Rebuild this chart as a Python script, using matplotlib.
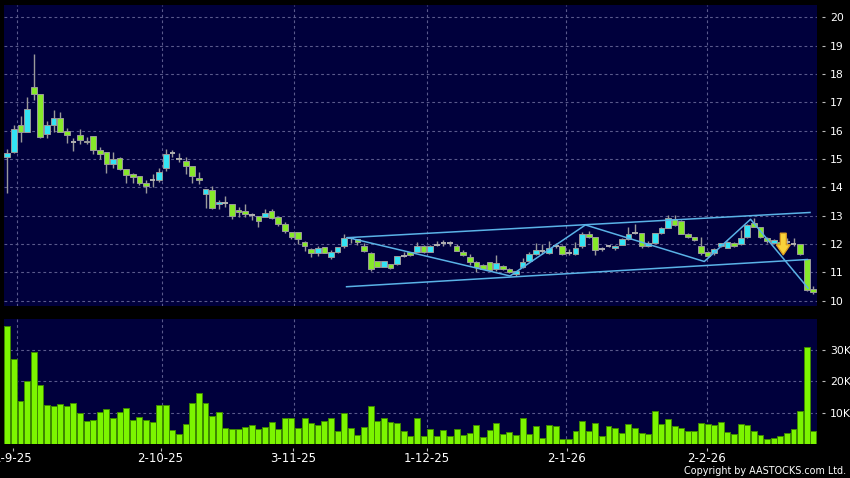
import matplotlib
matplotlib.use("Agg")
import matplotlib.pyplot as plt
from matplotlib.patches import Polygon

# ---------------- data ----------------
opens = [15.08, 15.26, 16.19, 15.96, 17.53, 17.28, 15.87, 16.19, 16.43, 15.97,
         15.58, 15.83, 15.64, 15.80, 15.30, 15.23, 14.81, 15.02, 14.63, 14.45,
         14.38, 14.14, 14.25, 14.25, 14.67, 15.20, 15.01, 14.92, 14.74, 14.32,
         13.75, 13.89, 13.41, 13.46, 13.40, 13.20, 13.15, 13.03, 12.98, 12.96,
         13.15, 12.94, 12.70, 12.41, 12.41, 12.06, 11.81, 11.67, 11.88, 11.55,
         11.71, 11.91, 12.20, 12.18, 11.93, 11.67, 11.39, 11.20, 11.28, 11.28,
         11.58, 11.73, 11.73, 11.91, 11.71, 11.97, 12.03, 12.02, 11.93, 11.73,
         11.53, 11.35, 11.26, 11.35, 11.12, 11.22, 11.13, 10.94, 11.20, 11.40,
         11.65, 11.75, 11.69, 11.93, 11.93, 11.69, 11.64, 11.91, 12.34, 12.24,
         11.81, 11.91, 11.85, 11.97, 12.18, 12.38, 12.38, 11.94, 12.05, 12.38,
         12.55, 12.88, 12.82, 12.34, 12.24, 11.91, 11.71, 11.67, 11.91, 11.87,
         12.05, 11.99, 12.24, 12.75, 12.59, 12.20, 12.03, 12.08, 12.08, 11.99,
         11.99, 11.46, 10.40]
highs = [15.34, 16.20, 16.52, 17.17, 18.70, 17.28, 16.32, 16.73, 16.65, 16.08,
         15.73, 16.05, 15.79, 15.80, 15.41, 15.23, 15.23, 15.06, 14.63, 14.49,
         14.40, 14.26, 14.47, 14.67, 15.34, 15.32, 15.20, 15.06, 14.74, 14.55,
         13.93, 14.06, 13.55, 13.69, 13.40, 13.29, 13.41, 13.08, 12.98, 13.22,
         13.22, 12.94, 12.78, 12.41, 12.41, 12.10, 11.85, 11.91, 11.88, 11.79,
         11.89, 12.34, 12.26, 12.18, 12.05, 11.72, 11.39, 11.39, 11.28, 11.58,
         11.73, 11.73, 12.08, 11.95, 11.95, 12.12, 12.14, 12.12, 11.98, 11.78,
         11.63, 11.40, 11.30, 11.35, 11.61, 11.25, 11.15, 11.06, 11.50, 11.70,
         12.05, 12.00, 12.10, 12.05, 11.95, 11.81, 12.06, 12.43, 12.45, 12.24,
         11.90, 11.97, 11.97, 12.20, 12.59, 12.70, 12.38, 12.10, 12.40, 12.60,
         13.02, 13.02, 12.85, 12.38, 12.26, 12.26, 11.74, 11.85, 12.05, 12.10,
         12.08, 12.49, 12.70, 12.92, 12.60, 12.25, 12.18, 12.12, 12.22, 12.22,
         12.00, 11.46, 10.50]
lows = [13.79, 15.22, 15.61, 15.96, 17.08, 15.73, 15.73, 15.95, 15.96, 15.55,
        15.29, 15.53, 15.53, 15.18, 14.99, 14.52, 14.67, 14.61, 14.14, 14.16,
        14.08, 13.81, 14.02, 14.20, 14.59, 15.08, 14.90, 14.45, 14.16, 14.12,
        13.28, 13.25, 13.25, 13.29, 12.88, 12.96, 12.96, 12.85, 12.58, 12.94,
        12.87, 12.64, 12.38, 12.17, 12.00, 11.76, 11.55, 11.58, 11.67, 11.46,
        11.69, 11.85, 12.05, 11.97, 11.72, 11.05, 11.18, 11.18, 11.12, 11.27,
        11.55, 11.58, 11.70, 11.68, 11.70, 11.91, 11.91, 11.91, 11.76, 11.58,
        11.25, 11.02, 11.10, 11.06, 11.06, 11.08, 10.98, 10.88, 11.15, 11.35,
        11.62, 11.65, 11.65, 11.85, 11.62, 11.60, 11.62, 11.87, 12.20, 11.61,
        11.74, 11.88, 11.80, 11.95, 12.15, 12.34, 11.86, 11.90, 12.02, 12.35,
        12.55, 12.64, 12.34, 12.20, 12.10, 11.60, 11.55, 11.60, 11.88, 11.84,
        11.90, 11.96, 12.20, 12.58, 12.20, 12.05, 11.98, 11.94, 11.97, 11.93,
        11.60, 10.35, 10.23]
closes = [15.22, 16.05, 15.94, 16.75, 17.28, 15.76, 16.19, 16.43, 15.96, 15.83,
          15.58, 15.67, 15.60, 15.30, 15.18, 14.81, 14.99, 14.63, 14.42, 14.36,
          14.14, 14.03, 14.25, 14.55, 15.16, 15.20, 15.01, 14.74, 14.39, 14.25,
          13.93, 13.28, 13.48, 13.46, 13.00, 13.13, 13.07, 13.03, 12.82, 13.08,
          12.93, 12.70, 12.47, 12.26, 12.17, 11.93, 11.67, 11.85, 11.67, 11.71,
          11.89, 12.20, 12.20, 12.07, 11.75, 11.12, 11.18, 11.39, 11.16, 11.58,
          11.58, 11.60, 11.91, 11.71, 11.91, 11.97, 12.03, 12.02, 11.76, 11.60,
          11.35, 11.20, 11.12, 11.08, 11.32, 11.11, 11.02, 11.06, 11.35, 11.64,
          11.79, 11.75, 11.85, 11.93, 11.64, 11.69, 11.87, 12.34, 12.24, 11.79,
          11.81, 11.91, 11.94, 12.17, 12.34, 12.38, 11.94, 12.05, 12.38, 12.55,
          12.91, 12.67, 12.34, 12.24, 12.13, 11.67, 11.59, 11.81, 12.03, 12.08,
          11.93, 12.20, 12.67, 12.61, 12.26, 12.12, 12.14, 11.97, 12.08, 11.99,
          11.64, 10.38, 10.30]
volumes_k = [37.6, 27.1, 13.7, 20.1, 29.2, 18.6, 12.3, 12.0, 12.6, 12.2,
             13.1, 9.7, 7.2, 7.7, 10.1, 11.0, 8.3, 10.3, 11.4, 7.7,
             8.5, 7.7, 6.9, 12.4, 12.5, 4.4, 3.3, 6.5, 12.9, 16.1,
             13.1, 9.0, 10.2, 5.2, 4.7, 4.7, 5.4, 6.0, 4.8, 5.3,
             7.0, 4.8, 8.3, 8.3, 5.1, 8.3, 6.8, 6.0, 7.2, 8.1,
             4.0, 10.0, 5.1, 2.7, 5.4, 12.2, 7.4, 8.3, 6.9, 6.8,
             4.0, 2.5, 8.4, 2.6, 4.8, 2.5, 4.3, 2.6, 4.9, 3.0,
             3.5, 6.1, 2.2, 4.4, 6.8, 3.1, 3.8, 3.0, 8.2, 3.2,
             5.7, 1.8, 6.0, 5.8, 1.7, 1.6, 4.2, 7.3, 4.2, 6.8,
             2.4, 5.7, 5.1, 3.5, 6.2, 5.2, 3.4, 3.1, 10.4, 6.3,
             8.0, 5.7, 5.1, 4.1, 4.1, 6.8, 6.3, 6.0, 7.1, 3.9,
             3.2, 6.5, 6.1, 4.1, 2.7, 1.6, 1.9, 2.6, 3.4, 4.7,
             10.6, 30.8, 4.2]

date_labels = ["1-9-25", "2-10-25", "3-11-25", "1-12-25", "2-1-26", "2-2-26"]
date_label_pos = [0.9, 23.2, 43.3, 63.5, 84.7, 105.9]
date_grid_pos = [1.5, 23.45, 43.4, 63.5, 84.5, 105.9]
price_ticks = list(range(10, 21))
volume_ticks = [10000, 20000, 30000]
volume_tick_labels = ["10K", "20K", "30K"]

channel_upper_x = [51.4, 121.5]
channel_upper_y = [12.22, 13.11]
channel_lower_x = [51.35, 121.1]
channel_lower_y = [10.49, 11.45]
zigzag_x = [51.6, 76.1, 87.5, 105.5, 112.5, 121.2]
zigzag_y = [12.22, 10.87, 12.67, 11.38, 12.87, 10.44]
signal_idx = 117.45
signal_top, signal_neck, signal_tip = 12.38, 11.97, 11.61

# ---------------- styling ----------------
BG = "#000000"
PANEL = "#00003c"
GRID = "#5a5a8c"
UP = "#33e4f4"
DOWN = "#86e82a"
EDGE = "#9a9a9a"
VOL = "#7cf500"
VOL_EDGE = "#3f8a00"
LINE = "#5ab2e6"

W, H = 850, 478
fig = plt.figure(figsize=(W / 100, H / 100), dpi=100, facecolor=BG)
left, right = 3.5, 817.3
ax = fig.add_axes([left / W, 1 - 306 / H, (right - left) / W, 301 / H])
axv = fig.add_axes([left / W, 1 - 444 / H, (right - left) / W, 125 / H])

n = len(opens)
idx = list(range(n))
xlim = (-0.575, 122.6)

for a in (ax, axv):
    a.set_facecolor(PANEL)
    a.set_xlim(*xlim)
    for s in a.spines.values():
        s.set_color("none")
    a.spines["right"].set_position(("outward", 3.5))
    a.spines["bottom"].set_position(("outward", 3))
    a.yaxis.tick_right()
    a.tick_params(axis="y", which="both", right=True, left=False,
                  labelright=True, labelleft=False, length=2.5, width=0.8,
                  color="#bbbbbb", labelcolor="white", labelsize=7.8, pad=3)
    for gx in date_grid_pos:
        a.axvline(gx, color=GRID, lw=0.8, ls=(0, (2.5, 2.5)), zorder=0.5)

# ---- price panel ----
ax.set_ylim(9.81, 20.43)
ax.set_yticks(price_ticks)
ax.set_yticklabels([str(t) for t in price_ticks])
ax.set_xticks([])
for t in price_ticks:
    ax.axhline(t, color=GRID, lw=0.8, ls=(0, (2.5, 2.5)), zorder=0.5)

bw = 0.86
for i in idx:
    o, h, l, c = opens[i], highs[i], lows[i], closes[i]
    ax.vlines(i, l, h, color=EDGE, lw=1.0, zorder=2)
    if abs(c - o) < 1e-9:
        ax.hlines(o, i - bw / 2, i + bw / 2, color="#b0b0b0", lw=1.4, zorder=3)
    else:
        col = UP if c > o else DOWN
        ax.bar(i, abs(c - o), bottom=min(o, c), width=bw, color=col,
               edgecolor=EDGE, linewidth=0.7, zorder=3)

ax.plot(channel_upper_x, channel_upper_y, color=LINE, lw=1.1, zorder=4)
ax.plot(channel_lower_x, channel_lower_y, color=LINE, lw=1.1, zorder=4)
ax.plot(zigzag_x, zigzag_y, color=LINE, lw=1.1, zorder=4)

# down-arrow signal
sw, hw = 0.45, 1.05
arrow = Polygon([(signal_idx - sw, signal_top), (signal_idx + sw, signal_top),
                 (signal_idx + sw, signal_neck), (signal_idx + hw, signal_neck),
                 (signal_idx, signal_tip), (signal_idx - hw, signal_neck),
                 (signal_idx - sw, signal_neck)], closed=True,
                facecolor="#f8d23a", edgecolor="#e0a020", lw=0.9, zorder=6)
ax.add_patch(arrow)

# ---- volume panel ----
axv.set_ylim(0, 39700)
axv.set_yticks(volume_ticks)
axv.set_yticklabels(volume_tick_labels)
for t in volume_ticks:
    axv.axhline(t, color=GRID, lw=0.8, ls=(0, (2.5, 2.5)), zorder=0.5)
axv.bar(idx, [v * 1000 for v in volumes_k], width=0.9, color=VOL,
        edgecolor=VOL_EDGE, linewidth=0.7, zorder=3)
axv.set_xticks(date_label_pos)
axv.set_xticklabels(date_labels)
axv.tick_params(axis="x", bottom=True, length=2.5, width=0.8, color="#bbbbbb",
                labelcolor="white", labelsize=8.5, pad=0.6)

fig.text(846 / W, 1 - 470.5 / H, "Copyright by AASTOCKS.com Ltd.", ha="right",
         va="center", color="white", fontsize=6.9, family="DejaVu Sans")

fig.savefig("out.png", dpi=100, facecolor=BG)
